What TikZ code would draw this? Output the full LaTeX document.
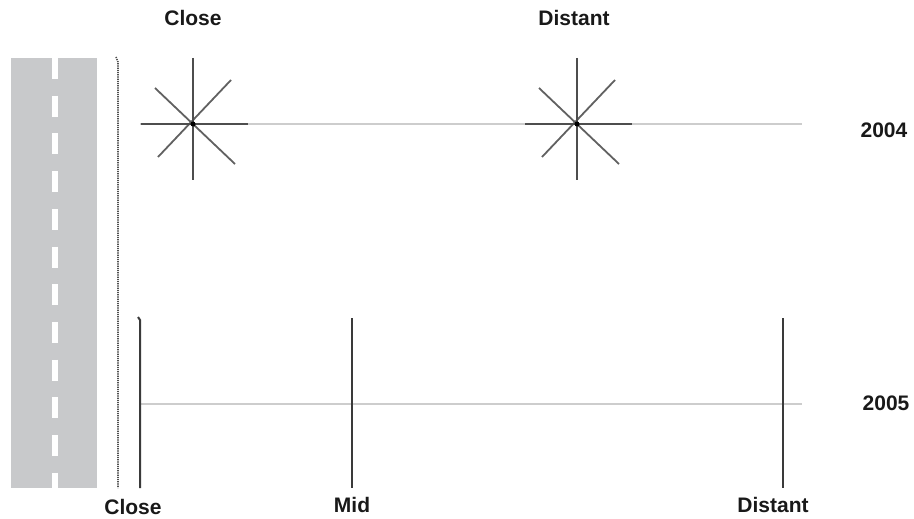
\documentclass[tikz,border=0pt]{standalone}
\usepackage{fontspec}
\setmainfont{Liberation Sans}
\usetikzlibrary{calc}
\definecolor{croad}{HTML}{C8C9CB}
\definecolor{cline}{HTML}{CDCDCD}
\definecolor{cdark}{HTML}{3A3A3A}
\definecolor{cdot}{HTML}{505050}
\tikzset{
  every picture/.style={line width=2pt},
  lbl/.style={font=\bfseries\fontsize{21}{23}\selectfont, text=black!90, inner sep=0pt},
  track/.style={draw=cline, line width=2pt},
  post/.style={draw=cdark, line width=2pt},
  arm/.style={draw=cdark!90, line width=2.4pt},
  diag/.style={draw=cdark!80, line width=1.8pt},
}

\begin{document}
\begin{tikzpicture}[x=1pt, y=-1pt]
  \useasboundingbox (0,0) rectangle (914,519);
  % ---------- road ----------
  \fill[croad] (11,58) rectangle (97,488);
  \draw[white, line width=6pt, dash pattern=on 21pt off 16.7pt] (55,58) -- (55,488);
  \draw[cdot, line width=1.6pt, dash pattern=on 1.2pt off 1pt] (116,57) -- (118,62) -- (118,488);
  % ---------- 2004: two stars ----------
  \coordinate (s1) at (193,124);
  \coordinate (s2) at (577,124);
  \coordinate (e1) at (802,124);
  \draw[track] (140,124) -- (e1);
  \foreach \s in {s1,s2} {
    \draw[diag] ($(\s)+(-38,-36)$) -- ($(\s)+(42,40)$);
    \draw[diag] ($(\s)+(-35,33)$) -- ($(\s)+(38,-44)$);
    \draw[arm] ($(\s)+(-52,0)$) -- ($(\s)+(55,0)$);
    \draw[arm] ($(\s)+(0,-66)$) -- ($(\s)+(0,56)$);
    \fill[black] (\s) circle (2.5pt);
  }
  \node[lbl] (close04) at (193,18) {Close};
  \node[lbl] (distant04) at (574,18) {Distant};
  \node[lbl] (y04) at (884,130) {2004};
  % ---------- 2005: three posts ----------
  \coordinate (p1) at (140,404);
  \coordinate (p2) at (352,404);
  \coordinate (p3) at (783,404);
  \coordinate (e2) at (802,404);
  \draw[track] (p1) -- (e2);
  \draw[post] (138,317) -- (140,320) -- (140,488);
  \draw[post] (352,318) -- (352,488);
  \draw[post] (783,318) -- (783,488);
  \node[lbl] (close05) at (133,507) {Close};
  \node[lbl] (mid05) at (352,505) {Mid};
  \node[lbl] (distant05) at (773,505) {Distant};
  \node[lbl] (y05) at (886,403) {2005};
\end{tikzpicture}
\end{document}
